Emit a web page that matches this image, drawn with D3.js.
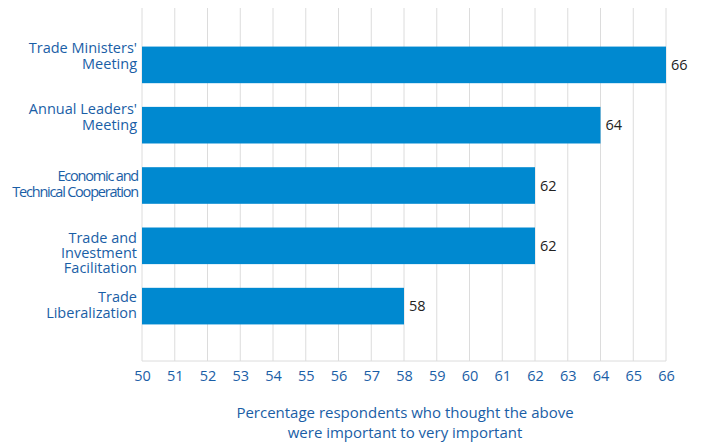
<!DOCTYPE html>
<html>
<head>
<meta charset="utf-8">
<script src="https://cdn.jsdelivr.net/npm/d3@7/dist/d3.min.js"></script>
<style>
  html, body { margin: 0; padding: 0; background: #fff; }
  svg { display: block; font-family: "Open Sans", "Noto Sans", sans-serif; }
</style>
</head>
<body>
<svg id="chart" width="701" height="443"></svg>
<script>
// ---- data ----
const categories = [
  ["Trade Ministers'", "Meeting"],
  ["Annual Leaders'", "Meeting"],
  ["Economic and", "Technical Cooperation"],
  ["Trade and", "Investment", "Facilitation"],
  ["Trade", "Liberalization"]
];
const values = [66, 64, 62, 62, 58];
const xTicks = [50, 51, 52, 53, 54, 55, 56, 57, 58, 59, 60, 61, 62, 63, 64, 65, 66];
const xTitle = ["Percentage respondents who thought the above", "were important to very important"];

// ---- layout ----
const svg = d3.select("#chart");
const plotL = 142, plotR = 666, plotT = 8, plotB = 361;
const barColor = "#0089d0", textBlue = "#1a5ea6", gridColor = "#dcdcdc";
const labelNudge = [-7.5, -7.5, 0, 1, 0]; // per-row vertical text nudge (layout only)

const x = d3.scaleLinear().domain([50, 66]).range([plotL, plotR]);
const y = d3.scaleBand().domain(d3.range(categories.length))
  .range([plotT + 1, plotB + 1]).paddingInner(0.393).paddingOuter(0.623);

// gridlines
svg.append("g").selectAll("line").data(xTicks).join("line")
  .attr("x1", d => x(d)).attr("x2", d => x(d))
  .attr("y1", plotT).attr("y2", plotB)
  .attr("stroke", gridColor).attr("stroke-width", 1);
// bottom baseline
svg.append("line").attr("x1", plotL).attr("x2", plotR).attr("y1", plotB).attr("y2", plotB)
  .attr("stroke", gridColor).attr("stroke-width", 1);

// x axis (tick labels only)
const xAxis = d3.axisBottom(x).tickValues(xTicks).tickSize(0).tickPadding(0).tickFormat(d3.format("d"));
const gx = svg.append("g").attr("transform", `translate(0,${plotB})`).call(xAxis);
gx.select(".domain").remove();
gx.selectAll("text").attr("fill", textBlue).attr("font-size", 14.5)
  .attr("font-family", "'Open Sans', 'Noto Sans', sans-serif")
  .attr("dy", null).attr("y", 20);

// bars
svg.append("g").selectAll("rect").data(values).join("rect")
  .attr("x", x(50)).attr("y", (d, i) => y(i))
  .attr("width", d => x(d) - x(50)).attr("height", y.bandwidth())
  .attr("fill", barColor);

// value labels
svg.append("g").selectAll("text").data(values).join("text")
  .attr("x", d => x(d) + 5).attr("y", (d, i) => y(i) + y.bandwidth() / 2)
  .attr("dy", "0.36em").attr("font-size", 14.5).attr("fill", "#222")
  .text(d => d);

// category labels
const lab = svg.append("g");
categories.forEach((lines, i) => {
  const condensed = lines.some(l => l.length > 18);
  const lh = lines.length > 2 ? 15 : 16;
  const firstBase = y(i) + 14.3 + labelNudge[i];
  const t = lab.append("text").attr("text-anchor", "end").attr("fill", textBlue)
    .attr("font-size", 14.5)
    .attr("letter-spacing", condensed ? "-1.2px" : null);
  lines.forEach((l, k) => {
    t.append("tspan").attr("x", 137 + (condensed ? 1 : 0)).attr("y", firstBase + k * lh).text(l);
  });
});

// axis title
const tt = svg.append("text").attr("text-anchor", "middle").attr("fill", textBlue).attr("font-size", 15);
xTitle.forEach((l, k) => {
  tt.append("tspan").attr("x", (plotL + plotR) / 2 + 1).attr("y", 418 + k * 20).text(l);
});
</script>
</body>
</html>
